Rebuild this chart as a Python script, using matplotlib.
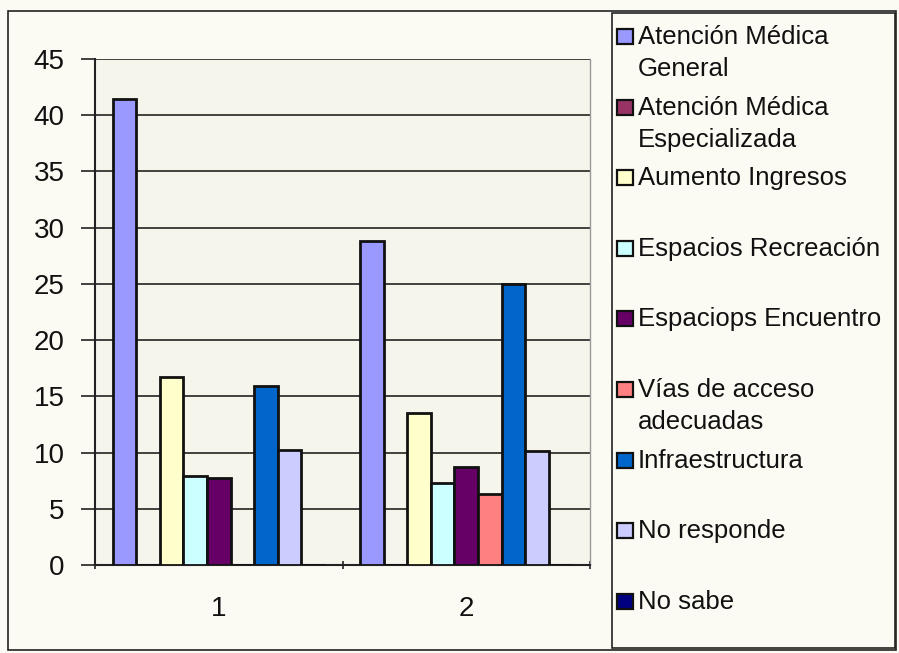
import matplotlib
matplotlib.use("Agg")
import matplotlib.pyplot as plt
from matplotlib.patches import Rectangle
import numpy as np

plt.rcParams['font.family'] = ['Liberation Sans', 'DejaVu Sans']

categories = ["1", "2"]
series_names = [
    "Atención Médica\nGeneral",
    "Atención Médica\nEspecializada",
    "Aumento Ingresos",
    "Espacios Recreación",
    "Espaciops Encuentro",
    "Vías de acceso\nadecuadas",
    "Infraestructura",
    "No responde",
    "No sabe",
]
atencion_general = [41.4, 28.8]
atencion_especializada = [0.0, 0.0]
aumento_ingresos = [16.7, 13.5]
espacios_recreacion = [7.9, 7.3]
espacios_encuentro = [7.7, 8.7]
vias_acceso = [0.0, 6.3]
infraestructura = [15.9, 25.0]
no_responde = [10.2, 10.1]
no_sabe = [0.0, 0.0]
series_values = [atencion_general, atencion_especializada, aumento_ingresos,
                 espacios_recreacion, espacios_encuentro, vias_acceso,
                 infraestructura, no_responde, no_sabe]
colors = ["#9999FF", "#993366", "#FFFFCC", "#CCFFFF", "#660066",
          "#FF8080", "#0066CC", "#CCCCFF", "#000080"]
yticks = [0, 5, 10, 15, 20, 25, 30, 35, 40, 45]

W, H = 899, 653
fig = plt.figure(figsize=(W / 100, H / 100), dpi=100)
fig.patch.set_facecolor("#FCFBF3")

# outer chart frame
fig.patches.append(Rectangle((8 / W, 1 - 650 / H), (896 - 8) / W, (650 - 11) / H,
                             transform=fig.transFigure, fill=False,
                             edgecolor="#222222", linewidth=1.2, zorder=0))

ax = fig.add_axes([95 / W, 1 - 565 / H, (590 - 95) / W, (565 - 59) / H])
ax.set_facecolor("#F6F5EC")

n = len(series_values)
bw = 1.0 / 10.5
x = np.arange(1, len(categories) + 1)
for i, (vals, c) in enumerate(zip(series_values, colors)):
    offs = (i - (n - 1) / 2) * bw
    ax.bar(x + offs, vals, width=bw, color=c, edgecolor="#111111",
           linewidth=2.0, zorder=3)

ax.set_xlim(0.5, 2.5)
ax.set_ylim(0, 45)
ax.set_yticks(yticks)
ax.set_yticklabels([str(t) for t in yticks], fontsize=20, color="#111111")
ax.yaxis.grid(True, color="#222222", linewidth=1.2, zorder=1)
ax.set_axisbelow(True)

ax.set_xticks(x)
ax.set_xticklabels(categories, fontsize=20, color="#111111")
ax.set_xticks([0.5, 1.5, 2.5], minor=True)
ax.tick_params(axis="x", which="major", length=0, pad=22)
ax.tick_params(axis="x", which="minor", length=6, width=1.2, direction="inout", color="#222222")
ax.tick_params(axis="y", length=10, width=1.2, pad=12, color="#222222", direction="out")

ax.spines["top"].set_visible(False)
ax.spines["right"].set_color("#999999")
ax.spines["right"].set_linewidth(1.0)
ax.spines["left"].set_color("#222222")
ax.spines["left"].set_linewidth(1.5)
ax.spines["bottom"].set_color("#222222")
ax.spines["bottom"].set_linewidth(1.5)

# legend box
lx0, lx1, ly0, ly1 = 612, 895, 13, 648
fig.patches.append(Rectangle((lx0 / W, 1 - ly1 / H), (lx1 - lx0) / W, (ly1 - ly0) / H,
                             transform=fig.transFigure, facecolor="#FCFBF3",
                             edgecolor="#222222", linewidth=1.2, zorder=1))
for i, (name, c) in enumerate(zip(series_names, colors)):
    base = 44 + 70.6 * i
    fig.patches.append(Rectangle((617 / W, 1 - base / H), 16 / W, 15 / H,
                                 transform=fig.transFigure, facecolor=c,
                                 edgecolor="#111111", linewidth=1.6, zorder=2))
    for j, line in enumerate(name.split("\n")):
        fig.text(638 / W, 1 - (base + 32 * j) / H, line, fontsize=18.5,
                 va="baseline", ha="left", color="#111111", zorder=3)

fig.savefig("out.png", dpi=100, facecolor=fig.get_facecolor())
